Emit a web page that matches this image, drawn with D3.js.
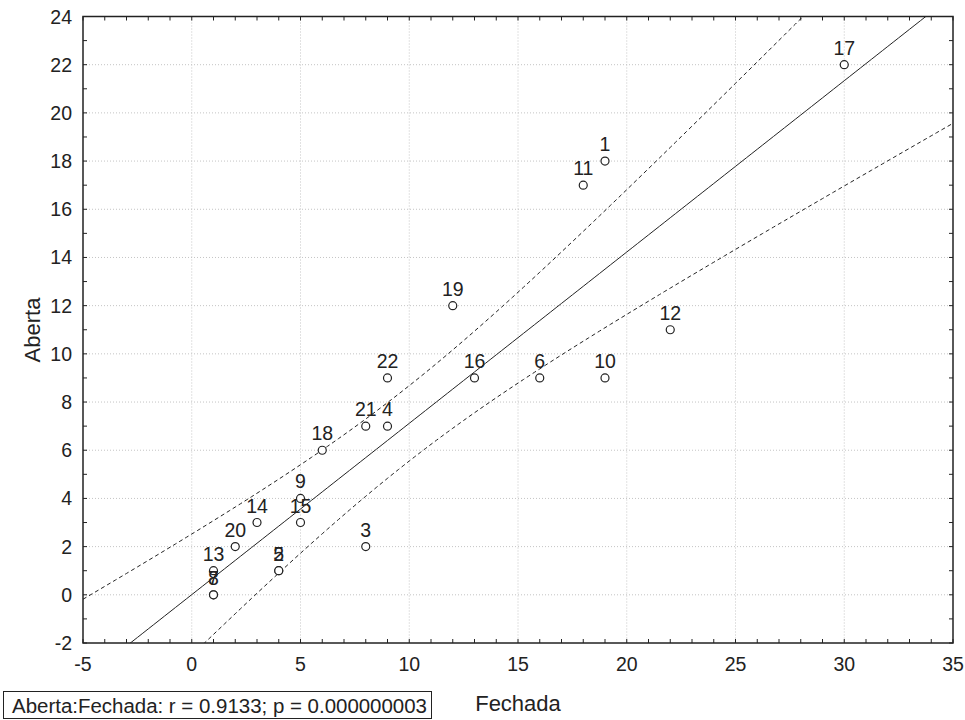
<!DOCTYPE html>
<html><head><meta charset="utf-8">
<script src="https://cdn.jsdelivr.net/npm/d3@7"></script>
<style>body{margin:0;background:#fff;} text{font-family:"Liberation Sans",Arial,sans-serif;fill:#222;}</style>
</head><body>
<svg id="chart" width="965" height="720"></svg>
<script>
const ids     = [1,2,3,4,5,6,7,8,9,10,11,12,13,14,15,16,17,18,19,20,21,22];
const fechada = [19,4,8,9,4,16,1,1,5,19,18,22,1,3,5,13,30,6,12,2,8,9];
const aberta  = [18,1,2,7,1,9,0,0,4,9,17,11,1,3,3,9,22,6,12,2,7,9];
const xTicks = [-5,0,5,10,15,20,25,30,35];
const yTicks = [-2,0,2,4,6,8,10,12,14,16,18,20,22,24];
const statText = "Aberta:Fechada: r = 0.9133; p = 0.000000003";
const tCrit = 2.845;

const svg = d3.select("#chart");
const L=83, R=953, T=16.5, B=643;
const x = d3.scaleLinear().domain([-5,35]).range([L,R]);
const y = d3.scaleLinear().domain([-2,24]).range([B,T]);

// grid
const g = svg.append("g");
g.selectAll(".gx").data(xTicks.slice(1,-1)).join("line")
 .attr("x1",d=>x(d)).attr("x2",d=>x(d)).attr("y1",T).attr("y2",B)
 .attr("stroke","#c4c4c4").attr("stroke-dasharray","1,2");
g.selectAll(".gy").data(yTicks.slice(1,-1)).join("line")
 .attr("y1",d=>y(d)).attr("y2",d=>y(d)).attr("x1",L).attr("x2",R)
 .attr("stroke","#c4c4c4").attr("stroke-dasharray","1,2");

// regression
const n = ids.length;
const mx = d3.mean(fechada), my = d3.mean(aberta);
let sxx=0, sxy=0, syy=0;
for(let i=0;i<n;i++){const dx=fechada[i]-mx, dy=aberta[i]-my; sxx+=dx*dx; sxy+=dx*dy; syy+=dy*dy;}
const b = sxy/sxx, a = my - b*mx;
const s = Math.sqrt((syy - b*sxy)/(n-2));
const xs = d3.range(-5, 35.01, 0.25);
const fit = v=>a+b*v;
const band = v=>tCrit*s*Math.sqrt(1/n+(v-mx)*(v-mx)/sxx);

const defs = svg.append("defs");
defs.append("clipPath").attr("id","clip").append("rect").attr("x",L).attr("y",T).attr("width",R-L).attr("height",B-T);
const cg = svg.append("g").attr("clip-path","url(#clip)");
const line = d3.line().x(d=>x(d[0])).y(d=>y(d[1]));
cg.append("path").attr("d",line(xs.map(v=>[v,fit(v)]))).attr("fill","none").attr("stroke","#222").attr("stroke-width",1);
cg.append("path").attr("d",line(xs.map(v=>[v,fit(v)+band(v)]))).attr("fill","none").attr("stroke","#222").attr("stroke-width",1).attr("stroke-dasharray","4,3");
cg.append("path").attr("d",line(xs.map(v=>[v,fit(v)-band(v)]))).attr("fill","none").attr("stroke","#222").attr("stroke-width",1).attr("stroke-dasharray","4,3");

// axes frame
svg.append("rect").attr("x",L).attr("y",T).attr("width",R-L).attr("height",B-T).attr("fill","none").attr("stroke","#222").attr("stroke-width",1.5);

const minorX = d3.range(-5,36,1), minorY = d3.range(-2,25,1);
const ax = svg.append("g").attr("stroke","#222").attr("stroke-width",1);
ax.selectAll(".tb").data(minorX).join("line").attr("x1",d=>x(d)).attr("x2",d=>x(d)).attr("y1",B).attr("y2",B-4);
ax.selectAll(".tt").data(minorX).join("line").attr("x1",d=>x(d)).attr("x2",d=>x(d)).attr("y1",T).attr("y2",T+4);
ax.selectAll(".tl").data(minorY).join("line").attr("y1",d=>y(d)).attr("y2",d=>y(d)).attr("x1",L).attr("x2",L+4);
ax.selectAll(".tr").data(minorY).join("line").attr("y1",d=>y(d)).attr("y2",d=>y(d)).attr("x1",R).attr("x2",R-4);

svg.selectAll(".xl").data(xTicks).join("text").attr("x",d=>x(d)).attr("y",671)
 .attr("text-anchor","middle").attr("font-size",19.5).text(d=>d);
svg.selectAll(".yl").data(yTicks).join("text").attr("x",72).attr("y",d=>y(d)+7)
 .attr("text-anchor","end").attr("font-size",19.5).text(d=>d);

// points
svg.selectAll(".pt").data(ids).join("circle")
 .attr("cx",(d,i)=>x(fechada[i])).attr("cy",(d,i)=>y(aberta[i])).attr("r",4)
 .attr("fill","#fff").attr("stroke","#222").attr("stroke-width",1.2);
svg.selectAll(".pl").data(ids).join("text")
 .attr("x",(d,i)=>x(fechada[i])).attr("y",(d,i)=>y(aberta[i])-10)
 .attr("text-anchor","middle").attr("font-size",19.5).text(d=>d);

// titles
svg.append("text").attr("transform","translate(40,330) rotate(-90)").attr("text-anchor","middle").attr("font-size",22).text("Aberta");
svg.append("text").attr("x",518).attr("y",711).attr("text-anchor","middle").attr("font-size",22).text("Fechada");

svg.append("rect").attr("x",3.5).attr("y",691.5).attr("width",428).attr("height",27).attr("fill","#fff").attr("stroke","#222");
svg.append("text").attr("x",12).attr("y",713).attr("font-size",19.5)
 .attr("textLength",415).attr("lengthAdjust","spacingAndGlyphs").text(statText);
</script>
</body></html>
